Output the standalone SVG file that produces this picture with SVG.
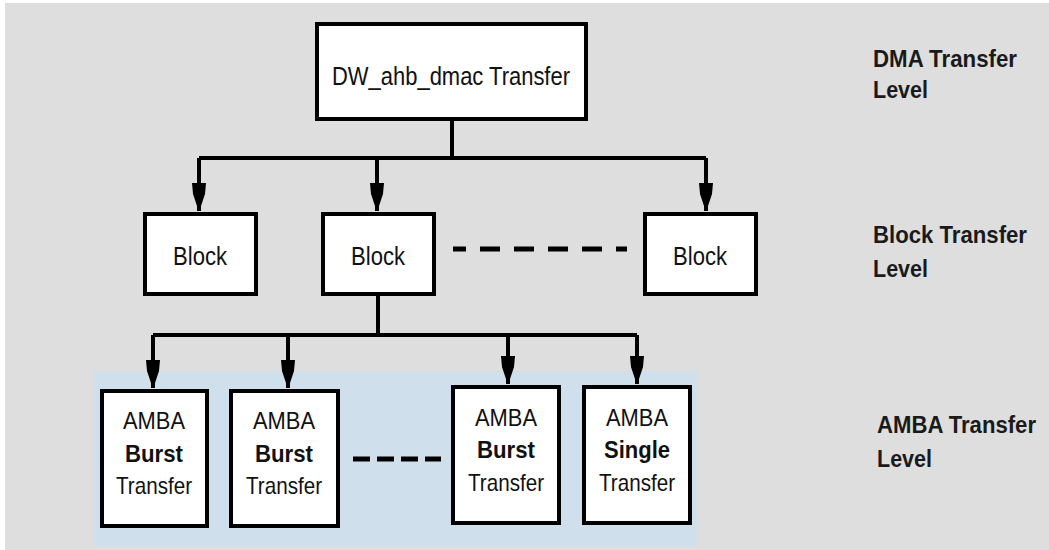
<svg xmlns="http://www.w3.org/2000/svg" width="1049" height="550" viewBox="0 0 1049 550">
<style>
.box{fill:#ffffff;stroke:#000000;stroke-width:4}
.ln{fill:none;stroke:#000000;stroke-width:4}
.dash{fill:none;stroke:#000000;stroke-width:5}
.t{font-family:"Liberation Sans",Arial,sans-serif;font-size:24px;fill:#111111;text-anchor:middle}
.tb{font-size:25px}
.b{font-weight:bold}
.lbl{font-family:"Liberation Sans",Arial,sans-serif;font-size:24px;font-weight:bold;fill:#1a1a1a}
.sm{font-size:23px}
</style>
<defs>
<marker id="arr" markerUnits="userSpaceOnUse" orient="auto" refX="0" refY="0" markerWidth="40" markerHeight="20" overflow="visible">
<path d="M-28,-7 L-17,-6 L-5,-2 L-5,2 L-17,6 L-28,7 Z" fill="#000000"/>
</marker>
</defs>
<rect x="0" y="0" width="1049" height="550" fill="#ffffff"/>
<rect x="5" y="3" width="1044" height="547" fill="#dedede"/>
<rect x="94" y="371" width="604" height="175" fill="#cfe0ec"/>

<g id="connectors">
<path class="ln" d="M452,120 V158"/>
<path class="ln" d="M199,158 H706"/>
<path class="ln" d="M199,158 V211" marker-end="url(#arr)"/>
<path class="ln" d="M377,158 V211" marker-end="url(#arr)"/>
<path class="ln" d="M706,158 V211" marker-end="url(#arr)"/>
<path class="ln" d="M378,295 V335"/>
<path class="ln" d="M153,335 H637"/>
<path class="ln" d="M153,335 V388" marker-end="url(#arr)"/>
<path class="ln" d="M288,335 V388" marker-end="url(#arr)"/>
<path class="ln" d="M508,335 V384" marker-end="url(#arr)"/>
<path class="ln" d="M637,335 V384" marker-end="url(#arr)"/>
<path class="dash" d="M453,249 H627" stroke-dasharray="20 14" stroke-dashoffset="7"/>
<path class="dash" d="M353,459 H441" stroke-dasharray="17 7"/>
</g>

<g id="dma">
<rect class="box" x="317" y="24" width="269" height="95"/>
<text class="t tb" x="451" y="85" textLength="238" lengthAdjust="spacingAndGlyphs">DW_ahb_dmac Transfer</text>
</g>

<g id="block1">
<rect class="box" x="145" y="214" width="111" height="80"/>
<text class="t tb" x="200" y="265" textLength="54" lengthAdjust="spacingAndGlyphs">Block</text>
</g>
<g id="block2">
<rect class="box" x="323" y="214" width="111" height="80"/>
<text class="t tb" x="378" y="265" textLength="54" lengthAdjust="spacingAndGlyphs">Block</text>
</g>
<g id="block3">
<rect class="box" x="645" y="214" width="111" height="80"/>
<text class="t tb" x="700" y="265" textLength="54" lengthAdjust="spacingAndGlyphs">Block</text>
</g>

<g id="amba1">
<rect class="box" x="102" y="391" width="105" height="135"/>
<text class="t" x="154" y="429" textLength="62" lengthAdjust="spacingAndGlyphs">AMBA</text>
<text class="t b" x="154" y="462" textLength="58" lengthAdjust="spacingAndGlyphs">Burst</text>
<text class="t" x="154" y="494" textLength="76" lengthAdjust="spacingAndGlyphs">Transfer</text>
</g>
<g id="amba2">
<rect class="box" x="231" y="391" width="107" height="135"/>
<text class="t" x="284" y="429" textLength="62" lengthAdjust="spacingAndGlyphs">AMBA</text>
<text class="t b" x="284" y="462" textLength="58" lengthAdjust="spacingAndGlyphs">Burst</text>
<text class="t" x="284" y="494" textLength="76" lengthAdjust="spacingAndGlyphs">Transfer</text>
</g>
<g id="amba3">
<rect class="box" x="453" y="387" width="106" height="136"/>
<text class="t" x="506" y="426" textLength="62" lengthAdjust="spacingAndGlyphs">AMBA</text>
<text class="t b" x="506" y="458" textLength="58" lengthAdjust="spacingAndGlyphs">Burst</text>
<text class="t" x="506" y="491" textLength="76" lengthAdjust="spacingAndGlyphs">Transfer</text>
</g>
<g id="amba4">
<rect class="box" x="584" y="387" width="106" height="136"/>
<text class="t" x="637" y="426" textLength="62" lengthAdjust="spacingAndGlyphs">AMBA</text>
<text class="t b" x="637" y="458" textLength="66" lengthAdjust="spacingAndGlyphs">Single</text>
<text class="t" x="637" y="491" textLength="76" lengthAdjust="spacingAndGlyphs">Transfer</text>
</g>

<g id="labels">
<text class="lbl" x="873" y="67" textLength="144" lengthAdjust="spacingAndGlyphs">DMA Transfer</text>
<text class="lbl" x="873" y="98" textLength="55" lengthAdjust="spacingAndGlyphs">Level</text>
<text class="lbl" x="873" y="243" textLength="154" lengthAdjust="spacingAndGlyphs">Block Transfer</text>
<text class="lbl" x="873" y="277" textLength="55" lengthAdjust="spacingAndGlyphs">Level</text>
<text class="lbl sm" x="877" y="433" textLength="159" lengthAdjust="spacingAndGlyphs">AMBA Transfer</text>
<text class="lbl" x="877" y="467" textLength="55" lengthAdjust="spacingAndGlyphs">Level</text>
</g>
</svg>
